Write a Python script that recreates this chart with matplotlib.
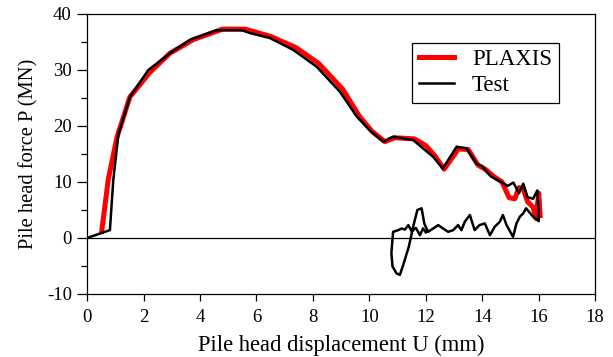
import matplotlib.pyplot as plt
from matplotlib.ticker import MultipleLocator

plt.rcParams['font.family'] = ['Liberation Serif', 'DejaVu Serif']
plt.rcParams['axes.unicode_minus'] = False

# PLAXIS simulation (displacement mm, force MN)
plaxis_u = [0.52, 0.75, 1.06, 1.52, 2.23, 2.94, 3.75, 4.8, 5.6, 6.5, 7.4, 8.2,
            9.05, 9.65, 10.1, 10.55, 10.9, 11.6, 12.0, 12.3, 12.65, 13.15, 13.5,
            13.85, 14.1, 14.4, 14.7, 14.95, 15.15, 15.3, 15.45, 15.6, 15.8,
            15.9, 16.0, 16.05]
plaxis_p = [1.2, 10.4, 18.0, 25.2, 29.6, 33.0, 35.4, 37.3, 37.3, 36.0, 34.0, 31.2,
            26.6, 21.7, 19.0, 17.2, 17.9, 17.7, 16.5, 14.8, 12.3, 15.9, 15.8,
            13.0, 12.3, 11.0, 10.0, 7.2, 7.0, 9.0, 8.8, 6.5, 5.5,
            3.5, 8.0, 4.0]

# Test measurements
test_u = [0.0, 0.81, 0.93, 1.11, 1.52, 2.17, 2.94, 3.65, 4.59, 5.48, 5.77, 6.48,
          7.3, 8.13, 8.96, 9.55, 10.0, 10.49, 10.84, 11.55, 11.9, 12.26, 12.6,
          13.09, 13.44, 13.79, 14.0, 14.3, 14.7, 14.9, 15.1, 15.3, 15.45, 15.6,
          15.8, 15.95, 16.0, 16.0,
          15.8, 15.55, 15.45, 15.33, 15.21, 15.09, 14.86, 14.73, 14.62, 14.44,
          14.27, 14.09, 13.9, 13.73, 13.56, 13.38, 13.26, 13.14, 12.97, 12.79,
          12.61, 12.44, 12.26, 12.08, 11.95, 11.85, 11.7, 11.55, 11.4, 11.2,
          11.08, 10.96, 10.82, 10.78, 10.84, 11.02, 11.14, 11.26, 11.38, 11.5,
          11.65, 11.79, 11.9, 12.0]
test_p = [0.0, 1.4, 10.4, 18.5, 25.2, 30.0, 33.0, 35.4, 37.1, 37.1, 36.6, 35.7,
          33.6, 30.6, 26.1, 21.7, 19.3, 17.2, 18.1, 17.5, 16.0, 14.5, 12.4,
          16.3, 16.0, 13.3, 12.8, 11.0, 9.9, 9.3, 9.9, 8.0, 9.7, 7.3,
          7.0, 8.5, 4.0, 3.0,
          3.8, 5.3, 4.4, 3.8, 2.6, 0.2, 2.3, 4.1, 2.9, 2.0,
          0.5, 2.6, 2.3, 1.4, 4.1, 2.9, 1.4, 2.3, 1.4, 1.1,
          1.7, 2.3, 1.7, 1.1, 2.5, 5.3, 5.0, 2.0, -1.5, -4.8,
          -6.6, -6.3, -5.1, -2.7, 1.1, 1.4, 1.7, 1.5, 2.3, 1.2,
          1.8, 0.5, 1.7, 1.0]

fig = plt.figure(figsize=(6.13, 3.57), dpi=100)
ax = fig.add_axes([0.142, 0.1765, 0.829, 0.7843])

ax.plot(plaxis_u, plaxis_p, color='red', linewidth=3.6, label='PLAXIS')
ax.plot(test_u, test_p, color='black', linewidth=1.8, label='Test')
ax.axhline(0, color='black', linewidth=0.9)

ax.set_xlim(0, 18)
ax.set_ylim(-10, 40)
ax.xaxis.set_major_locator(MultipleLocator(2))
ax.yaxis.set_major_locator(MultipleLocator(10))
ax.yaxis.set_minor_locator(MultipleLocator(5))
ax.tick_params(axis='both', which='major', direction='out', width=0.9,
               labelsize=13.5, top=False, right=False)
ax.tick_params(axis='x', which='major', length=5, pad=6)
ax.tick_params(axis='y', which='major', length=7, pad=4)
ax.tick_params(axis='y', which='minor', direction='out', length=4.5, width=0.9)
for s in ax.spines.values():
    s.set_linewidth(0.9)

ax.set_xlabel('Pile head displacement U (mm)', fontsize=16.3, labelpad=6)
ax.set_ylabel('Pile head force P (MN)', fontsize=14.8, labelpad=6)

leg = ax.legend(loc='upper right', bbox_to_anchor=(0.951, 0.939), fontsize=16.5,
                fancybox=False, edgecolor='black', framealpha=1,
                handlelength=1.5, borderpad=0.3, labelspacing=0.2)
leg.get_frame().set_linewidth(0.9)

fig.savefig('out.png', dpi=100)
